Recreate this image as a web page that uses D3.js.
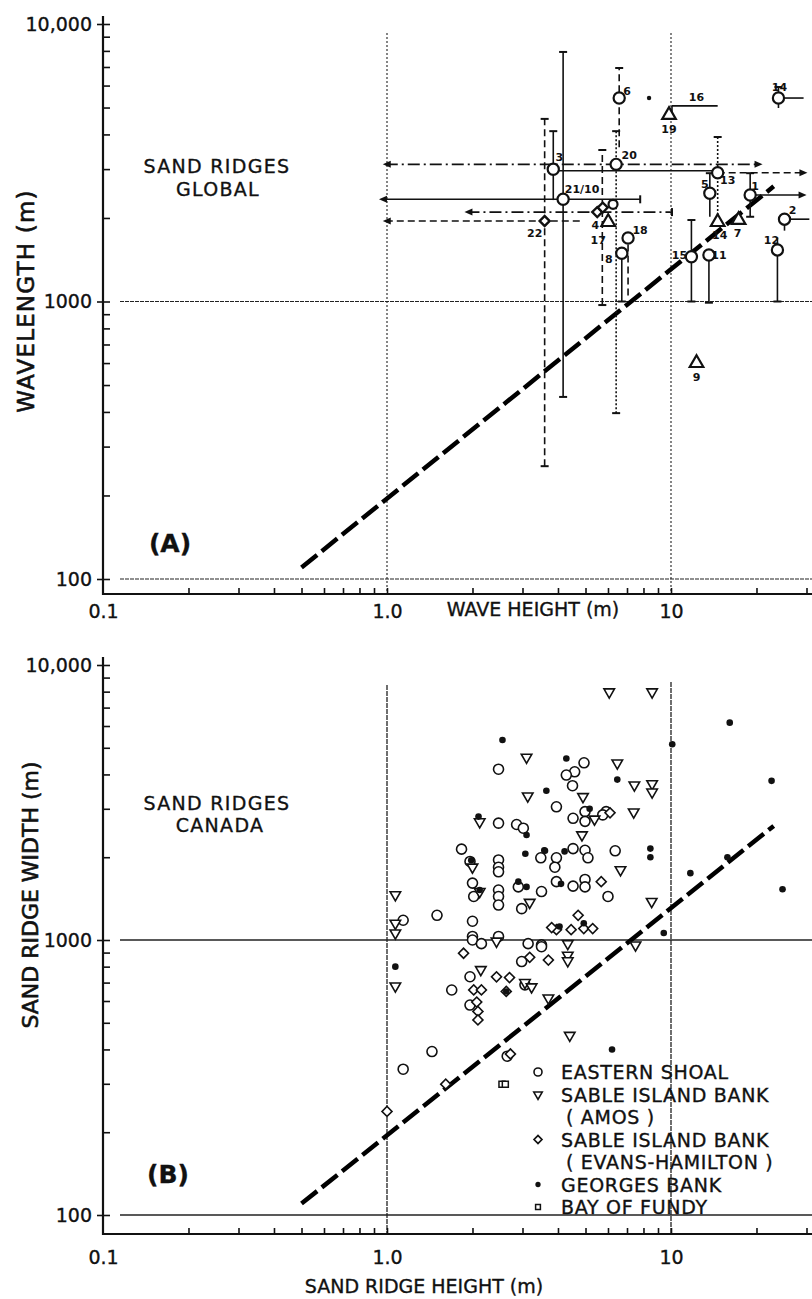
<!DOCTYPE html>
<html><head><meta charset="utf-8">
<script src="https://cdn.jsdelivr.net/npm/d3@7/dist/d3.min.js"></script>
<style>
html,body{margin:0;padding:0;background:#fff;}
svg{display:block;}
text{font-family:"DejaVu Sans","Liberation Sans",sans-serif;fill:#111;stroke:#111;stroke-width:0.35px;}
</style></head>
<body>
<svg id="chart" width="812" height="1299"></svg>
<script>
// ---------------- data ----------------
const xTickValues = [0.1, 1, 10];
const xTickLabels = ["0.1", "1.0", "10"];
const yTickValues = [100, 1000, 10000];
const yTickLabels = ["100", "1000", "10,000"];
const xMinorTicks = [0.2,0.3,0.4,0.5,0.6,0.7,0.8,0.9,2,3,4,5,6,7,8,9,20,30];
const yMinorTicks = [200,300,400,500,600,700,800,900,2000,3000,4000,5000,6000,7000,8000,9000];

// fitted trend line (same in both panels)
const trendHeight = [0.5, 23];
const trendLength = [110, 2600];

// Panel A: global sand ridges
const globalLabels  = ["6","20","3","21/10","22","4","","17","18","8","19","16","14","13","5","14","1","7","2","12","15","11","9","",""];
const globalMarkers = ["circle","circle","circle","circle","diamond","diamond","diamond","triangle","circle","circle","triangle","none","circle","circle","circle","triangle","circle","triangle","circle","circle","circle","circle","triangle","circle","dot"];
const globalHeight  = [6.57,6.41,3.85,4.17,3.59,5.5,5.75,6.01,7.06,6.71,9.84,12.0,23.9,14.6,13.7,14.6,19.0,17.3,25.1,23.7,11.8,13.6,12.3,6.25,8.37];
const globalLength  = [5410,3120,2995,2335,1950,2100,2180,1933,1693,1492,4700,5070,5410,2910,2455,1933,2420,1966,1980,1534,1450,1471,600,2240,5410];

// Panel A: range bars (x1,y1)-(x2,y2), line kind, end caps
const barX1 = [6.57,6.41,0.99,3.85,3.85,0.96,4.17,0.99,3.59,1.92,5.73,6.71,10.08,10.08,23.9,23.9,14.6,14.6,13.7,19.0,19.0,25.1,25.1,23.7,11.8,13.6,7.06];
const barY1 = [3600,396,3120,2320,2960,2335,453,1950,255,2100,971,1000,4700,5070,5410,4980,2910,1855,2020,2420,2020,1980,1800,1000,1000,990,1050];
const barX2 = [6.57,6.41,20.5,3.85,14.6,7.79,4.17,4.91,3.59,10.08,5.73,6.71,10.08,14.6,29.3,23.9,29.5,14.6,13.7,29.3,19.0,30.7,25.1,23.7,11.8,13.6,7.06];
const barY2 = [6940,4110,3120,4110,2960,2335,7930,1950,4550,2100,3515,1492,5070,5070,5410,5930,2910,3915,2900,2420,2900,1980,1980,1700,1966,1471,1693];
const barKind = ["dashed","dotted","dashdot","solid","solid","solid","solid","dashed","dashed","dashdot","dashed","solid","solid","solid","solid","solid","dashed","dotted","solid","solid","solid","solid","solid","solid","solid","solid","dashed"];
const barCap1 = ["none","T","arrow","none","none","arrow","T","arrow","T","arrow","T","T","none","none","none","none","none","none","none","none","T","none","none","T","T","T","none"];
const barCap2 = ["T","T","arrow","T","none","T","T","none","T","T","T","none","none","none","none","T","arrow","T","T","arrow","T","none","none","none","T","none","none"];

// Panel B: Canadian sand ridges
const easternH = [4.94,4.58,4.28,4.5,3.95,4.98,4.52,5.91,5.75,4.98,4.52,4.98,3.95,5.1,6.36,3.9,3.95,4.52,4.98,4.98,3.5,6.0,3.5,2.47,2.47,2.86,3.02,1.83,3.48,1.96,2.47,2.47,2.47,2.0,2.02,2.47,2.47,2.47,2.9,2.98,1.5,1.14,2.0,2.0,2.47,2.0,2.15,3.14,3.5,2.98,1.96,1.69,3.06,1.96,1.44,1.14,2.65];
const easternW = [4410,4090,3980,3640,3050,2930,2770,2930,2850,2700,2150,2120,1990,1990,2110,1840,1630,1570,1660,1560,1500,1440,960,4180,2660,2630,2550,2140,1990,1930,1955,1840,1770,1610,1440,1520,1440,1340,1560,1300,1230,1180,1170,1030,1030,1000,970,970,945,835,735,658,687,580,393,339,378];
const amosH = [6.06,8.58,6.47,7.43,8.58,8.58,4.9,5.38,7.39,4.86,6.64,8.55,7.5,4.33,4.33,4.33,3.1,3.13,2.12,2.0,2.12,3.18,1.07,1.07,1.07,2.43,2.14,1.07,3.06,3.23,3.7,4.4];
const amosW = [7980,7980,4400,3660,3700,3450,3320,2750,2920,2410,1800,1380,959,970,880,840,4620,3340,2690,1840,1500,1370,1460,1150,1060,990,780,680,700,675,615,450];
const evansH = [5.68,4.71,3.95,3.8,4.93,5.3,4.45,3.7,1.86,3.18,2.43,2.7,2.02,2.15,2.63,2.07,2.09,2.09,1.61,1.0,2.72,6.1];
const evansW = [1630,1230,1090,1110,1100,1100,1090,845,895,865,735,730,658,658,650,595,550,512,299,238,385,2900];
const georgesH = [16.1,10.1,4.28,22.6,6.47,3.64,5.17,3.58,4.22,8.46,8.46,4.1,4.05,4.93,9.43,11.7,15.8,24.7,2.55,2.1,3.1,3.07,3.6,2.12,2.9,3.1,1.07,1.98,6.2,2.63];
const georgesW = [6170,5150,4570,3790,3830,3490,3000,2120,2100,2150,2000,1600,1120,1150,1060,1750,2000,1530,5340,2810,2410,2060,2110,1520,1630,1560,800,1950,400,650];
const fundyH = [2.54,2.61];
const fundyW = [299,299];

const legendLabels = [["EASTERN SHOAL"],["SABLE ISLAND BANK","( AMOS )"],["SABLE ISLAND BANK","( EVANS-HAMILTON )"],["GEORGES BANK"],["BAY OF FUNDY"]];
const legendSymbols = ["circle","triDown","diamond","dot","square"];

// ---------------- layout ----------------
const svg = d3.select("#chart");
const x = d3.scaleLog().domain([0.1, 10]).range([103, 671]);
const yA = d3.scaleLog().domain([100, 10000]).range([579, 24]);
const yB = d3.scaleLog().domain([100, 10000]).range([1215, 665]);
const X_RIGHT = 812;

// label offsets for panel A (layout only)
const globalLabelDx = [8,13,6,19,-10,-2,0,-10,12,-13,0,3,1,10,-5,2,5,-1,8,-6,-12,10,0,0,0];
const globalLabelDy = [-7,-9,-12,-10,12,13,0,18,-8,6,15,-8,-11,8,-9,13,-8,13,-9,-9,-1,1,14,0,0];

function panel(y, axisY, axisTopY, gridV, gridH, gridStyleV, gridStyleH) {
  const g = svg.append("g");
  gridV.forEach(v => {
    g.append("line").attr("x1", x(v.val)).attr("x2", x(v.val)).attr("y1", v.top).attr("y2", axisY)
      .attr("stroke", "#222").attr("stroke-width", gridStyleV.w).attr("stroke-dasharray", gridStyleV.dash);
  });
  gridH.forEach(v => {
    g.append("line").attr("x1", 120).attr("x2", X_RIGHT).attr("y1", y(v)).attr("y2", y(v))
      .attr("stroke", "#222").attr("stroke-width", gridStyleH.w).attr("stroke-dasharray", gridStyleH.dash);
  });
  const ay = g.append("g").attr("transform", `translate(${x(0.1)},0)`)
    .call(d3.axisRight(y).tickValues(yMinorTicks).tickSize(7).tickFormat(""));
  ay.select(".domain").remove();
  ay.selectAll("line").attr("stroke", "#111").attr("stroke-width", 1.6);
  const ayl = g.append("g").attr("transform", `translate(${x(0.1)},0)`)
    .call(d3.axisLeft(y).tickValues(yTickValues).tickSize(6).tickPadding(5)
      .tickFormat((d, i) => yTickLabels[i]));
  ayl.select(".domain").remove();
  ayl.selectAll("line").attr("stroke", "#111").attr("stroke-width", 1.6).attr("x2", -6).attr("x1", 7);
  ayl.selectAll("text").attr("font-size", 19).attr("fill", "#111").style("font-family", "DejaVu Sans");
  const ax = g.append("g").attr("transform", `translate(0,${axisY})`)
    .call(d3.axisTop(x).tickValues(xMinorTicks.concat([1, 10])).tickSize(6).tickFormat(""));
  ax.select(".domain").remove();
  ax.selectAll("line").attr("stroke", "#111").attr("stroke-width", 1.6);
  g.append("line").attr("x1", x(0.1)).attr("x2", X_RIGHT).attr("y1", axisY).attr("y2", axisY)
    .attr("stroke", "#111").attr("stroke-width", 2.2);
  g.append("line").attr("x1", x(0.1)).attr("x2", x(0.1)).attr("y1", axisTopY).attr("y2", axisY + 1)
    .attr("stroke", "#111").attr("stroke-width", 2.2);
  g.append("path")
    .attr("d", d3.line().x((d, i) => x(trendHeight[i])).y((d, i) => y(trendLength[i]))(trendHeight))
    .attr("fill", "none").attr("stroke", "#000").attr("stroke-width", 4.5)
    .attr("stroke-dasharray", "20,6");
  return g;
}

function xLabels(axisY, pad) {
  const a = svg.append("g").attr("transform", `translate(0,${axisY})`)
    .call(d3.axisBottom(x).tickValues(xTickValues).tickSize(0).tickPadding(pad)
      .tickFormat((d, i) => xTickLabels[i]));
  a.select(".domain").remove();
  a.selectAll("text").attr("font-size", 19).attr("fill", "#111").style("font-family", "DejaVu Sans");
}

// ---------------- Panel A ----------------
const gA = panel(yA, 594, 16,
  [{val: 1, top: 33}, {val: 10, top: 33}], [1000, 100],
  {w: 1.1, dash: "2,2"}, {w: 1.1, dash: "4,1"});
xLabels(594, 11);

const dashMap = {solid: null, dashed: "7,4", dashdot: "12,4,2,4", dotted: "2,2"};
const bars = gA.append("g");
barX1.forEach((_, i) => {
  const x1 = x(barX1[i]), y1 = yA(barY1[i]), x2 = x(barX2[i]), y2 = yA(barY2[i]);
  bars.append("line").attr("x1", x1).attr("y1", y1).attr("x2", x2).attr("y2", y2)
    .attr("stroke", "#111").attr("stroke-width", 1.6).attr("stroke-dasharray", dashMap[barKind[i]]);
  const len = Math.hypot(x2 - x1, y2 - y1), ux = (x2 - x1) / len, uy = (y2 - y1) / len;
  [[barCap1[i], x1, y1, -ux, -uy], [barCap2[i], x2, y2, ux, uy]].forEach(([cap, cx, cy, dx, dy]) => {
    if (cap === "T") {
      bars.append("line").attr("x1", cx - dy * 4).attr("y1", cy + dx * 4)
        .attr("x2", cx + dy * 4).attr("y2", cy - dx * 4).attr("stroke", "#111").attr("stroke-width", 2);
    } else if (cap === "arrow") {
      const p = d3.path();
      p.moveTo(cx + dx * 3, cy + dy * 3);
      p.lineTo(cx - dx * 5 - dy * 3.5, cy - dy * 5 + dx * 3.5);
      p.lineTo(cx - dx * 5 + dy * 3.5, cy - dy * 5 - dx * 3.5);
      p.closePath();
      bars.append("path").attr("d", p.toString()).attr("fill", "#111");
    }
  });
});

const ptsA = gA.append("g");
globalLabels.forEach((lab, i) => {
  const cx = x(globalHeight[i]), cy = yA(globalLength[i]);
  const m = globalMarkers[i];
  if (m === "circle") {
    ptsA.append("circle").attr("cx", cx).attr("cy", cy).attr("r", lab === "" ? 4.5 : 5.6)
      .attr("fill", "#fff").attr("stroke", "#111").attr("stroke-width", 2.2);
  } else if (m === "triangle") {
    ptsA.append("path").attr("d", d3.symbol(d3.symbolTriangle, 80)())
      .attr("transform", `translate(${cx},${cy})`)
      .attr("fill", "#fff").attr("stroke", "#111").attr("stroke-width", 2.2);
  } else if (m === "diamond") {
    ptsA.append("path").attr("d", d3.symbol(d3.symbolSquare, 50)())
      .attr("transform", `translate(${cx},${cy}) rotate(45)`)
      .attr("fill", "#fff").attr("stroke", "#111").attr("stroke-width", 2.4);
  } else if (m === "dot") {
    ptsA.append("circle").attr("cx", cx).attr("cy", cy).attr("r", 2.2).attr("fill", "#111");
  }
  if (lab) {
    ptsA.append("text").attr("x", cx + globalLabelDx[i]).attr("y", cy + globalLabelDy[i])
      .attr("text-anchor", "middle").attr("dominant-baseline", "central")
      .attr("font-size", 11).attr("font-weight", "bold").style("stroke-width", "0px").text(lab);
  }
});

// Panel A texts
svg.append("text").attr("x", 217).attr("y", 166).attr("text-anchor", "middle").attr("dominant-baseline", "central")
  .attr("font-size", 19).attr("letter-spacing", 1.3).text("SAND RIDGES");
svg.append("text").attr("x", 218).attr("y", 189).attr("text-anchor", "middle").attr("dominant-baseline", "central")
  .attr("font-size", 19).attr("letter-spacing", 1.3).text("GLOBAL");
svg.append("text").attr("x", 170).attr("y", 543).attr("text-anchor", "middle").attr("dominant-baseline", "central")
  .attr("font-size", 25).attr("font-weight", "bold").text("(A)");
svg.append("text").attr("transform", "translate(26,301) rotate(-90)").attr("text-anchor", "middle")
  .attr("dominant-baseline", "central").attr("font-size", 23).attr("letter-spacing", 1.2)
  .style("stroke-width", "0.6px").text("WAVELENGTH (m)");
svg.append("text").attr("x", 533).attr("y", 609).attr("text-anchor", "middle").attr("dominant-baseline", "central")
  .attr("font-size", 19).text("WAVE HEIGHT (m)");

// ---------------- Panel B ----------------
const gB = panel(yB, 1234, 657,
  [{val: 1, top: 685}, {val: 10, top: 682}], [1000, 100],
  {w: 1.3, dash: "5,1"}, {w: 1.4, dash: null});
xLabels(1234, 17);

const ptsB = gB.append("g");
function drawSym(g, type, cx, cy, scale) {
  const s = scale || 1;
  if (type === "circle") {
    g.append("circle").attr("cx", cx).attr("cy", cy).attr("r", 5 * s)
      .attr("fill", "#fff").attr("stroke", "#111").attr("stroke-width", 1.6);
  } else if (type === "triDown") {
    g.append("path").attr("d", d3.symbol(d3.symbolTriangle, 48 * s * s)())
      .attr("transform", `translate(${cx},${cy}) rotate(180)`)
      .attr("fill", "#fff").attr("stroke", "#111").attr("stroke-width", 1.6);
  } else if (type === "diamond") {
    g.append("path").attr("d", d3.symbol(d3.symbolSquare, 50 * s * s)())
      .attr("transform", `translate(${cx},${cy}) rotate(45)`)
      .attr("fill", "#fff").attr("stroke", "#111").attr("stroke-width", 1.6);
  } else if (type === "dot") {
    g.append("circle").attr("cx", cx).attr("cy", cy).attr("r", 3.3 * s).attr("fill", "#111");
  } else if (type === "square") {
    g.append("path").attr("d", d3.symbol(d3.symbolSquare, 36 * s * s)())
      .attr("transform", `translate(${cx},${cy})`)
      .attr("fill", "#fff").attr("stroke", "#111").attr("stroke-width", 1.5);
  }
}
const seriesB = [
  {h: easternH, w: easternW, s: "circle"},
  {h: evansH, w: evansW, s: "diamond"},
  {h: amosH, w: amosW, s: "triDown"},
  {h: fundyH, w: fundyW, s: "square"},
  {h: georgesH, w: georgesW, s: "dot"}
];
seriesB.forEach(ser => ser.h.forEach((hv, i) => drawSym(ptsB, ser.s, x(hv), yB(ser.w[i]))));

// legend
let line = 0;
legendLabels.forEach((lines, k) => {
  const ly = 1072 + line * 22.5;
  drawSym(svg, legendSymbols[k], 538, ly, 0.8);
  lines.forEach((t, j) => {
    svg.append("text").attr("x", j === 0 ? 561 : 566).attr("y", 1072 + (line + j) * 22.5)
      .attr("dominant-baseline", "central").attr("font-size", 19).attr("letter-spacing", 0.7).text(t);
  });
  line += lines.length;
});

// Panel B texts
svg.append("text").attr("x", 217).attr("y", 803).attr("text-anchor", "middle").attr("dominant-baseline", "central")
  .attr("font-size", 19).attr("letter-spacing", 1.3).text("SAND RIDGES");
svg.append("text").attr("x", 220).attr("y", 825).attr("text-anchor", "middle").attr("dominant-baseline", "central")
  .attr("font-size", 19).attr("letter-spacing", 1.3).text("CANADA");
svg.append("text").attr("x", 168).attr("y", 1174).attr("text-anchor", "middle").attr("dominant-baseline", "central")
  .attr("font-size", 25).attr("font-weight", "bold").text("(B)");
svg.append("text").attr("transform", "translate(30,895) rotate(-90)").attr("text-anchor", "middle")
  .attr("dominant-baseline", "central").attr("font-size", 22).style("stroke-width", "0.6px").text("SAND RIDGE WIDTH  (m)");
svg.append("text").attr("x", 424).attr("y", 1286).attr("text-anchor", "middle").attr("dominant-baseline", "central")
  .attr("font-size", 19).text("SAND RIDGE HEIGHT (m)");
</script>
</body></html>
